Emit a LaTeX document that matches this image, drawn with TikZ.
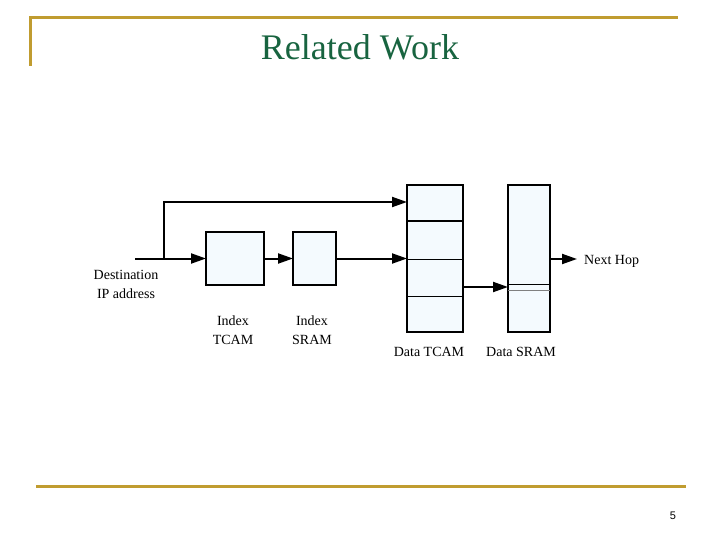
\documentclass[tikz,border=0pt]{standalone}
\usepackage{fontspec}
\setmainfont{Liberation Serif}
\newfontfamily\pgnumfont{Liberation Sans}
\usetikzlibrary{arrows.meta,calc}
\definecolor{rulegold}{RGB}{192,156,48}
\definecolor{titlegreen}{RGB}{24,100,64}
\definecolor{boxfill}{RGB}{244,250,254}
\begin{document}
\begin{tikzpicture}[x=1pt,y=-1pt,
  box/.style={draw,line width=2pt,fill=boxfill,inner sep=0pt,outer sep=0pt,anchor=north west},
  conn/.style={line width=2pt,-{Triangle[length=15pt,width=10pt]}},
  lbl/.style={font=\fontsize{14}{19}\selectfont,align=center,inner sep=0pt},
  rulebar/.style={rulegold,line width=3pt}]
\useasboundingbox (0,0) rectangle (720,540);
% frame rules
\draw[rulebar] (30,66) -- (30,18) -- (678,18);
\draw[rulebar] (36,486) -- (686,486);
% title
\node[anchor=base,inner sep=0pt,text=titlegreen,font=\fontsize{36}{40}\selectfont] (title) at (360,60) {Related Work};
\node[inner sep=0pt,font=\pgnumfont\fontsize{11}{13}\selectfont] (pgnum) at (673,516) {5};
% boxes
\node[box,minimum width=58pt,minimum height=53pt] (itcam) at (206,232) {};
\node[box,minimum width=43pt,minimum height=53pt] (isram) at (293,232) {};
\node[box,minimum width=56pt,minimum height=147pt] (dtcam) at (407,185) {};
\node[box,minimum width=42pt,minimum height=147pt] (dsram) at (508,185) {};
% dividers
\draw[line width=2pt] ($(dtcam.north west)+(0,36)$) -- ($(dtcam.north east)+(0,36)$);
\draw[line width=1pt] ($(dtcam.north west)+(0,74)$) -- ($(dtcam.north east)+(0,74)$);
\draw[line width=1pt] ($(dtcam.north west)+(0,111)$) -- ($(dtcam.north east)+(0,111)$);
\draw[line width=1pt] ($(dsram.north west)+(0,99)$) -- ($(dsram.north east)+(0,99)$);
\draw[line width=0.7pt,gray] ($(dsram.north west)+(0,105)$) -- ($(dsram.north east)+(0,105)$);
% labels
\node[lbl] (dest) at (126,284) {Destination\\IP address};
\node[lbl] (litcam) at (233,330) {Index\\TCAM};
\node[lbl] (lisram) at (312,330) {Index\\SRAM};
\node[lbl] (ldtcam) at (429,352) {Data TCAM};
\node[lbl] (ldsram) at (521,352) {Data SRAM};
\node[lbl,anchor=west] (next) at (584,261) {Next Hop};
% connectors
\coordinate (src) at ($(itcam.west)+(-71,0)$);
\coordinate (br) at ($(itcam.west)+(-42,0)$);
\coordinate (dtin) at ($(dtcam.north west)+(0,17)$);
\coordinate (dtout) at ($(dtcam.north east)+(0,102)$);
\coordinate (nh) at ($(dsram.north east)+(0,74)$);
\coordinate (nhend) at ($(nh -| next.west)+(-7,0)$);
\draw[conn] (src) -- (itcam.west);
\draw[conn] (itcam.east) -- (isram.west);
\draw[conn] (isram.east) -- (isram.east -| dtcam.west);
\draw[conn] (br) |- (dtin);
\draw[conn] (dtout) -- (dtout -| dsram.west);
\draw[conn] (nh) -- (nhend);
\end{tikzpicture}
\end{document}
